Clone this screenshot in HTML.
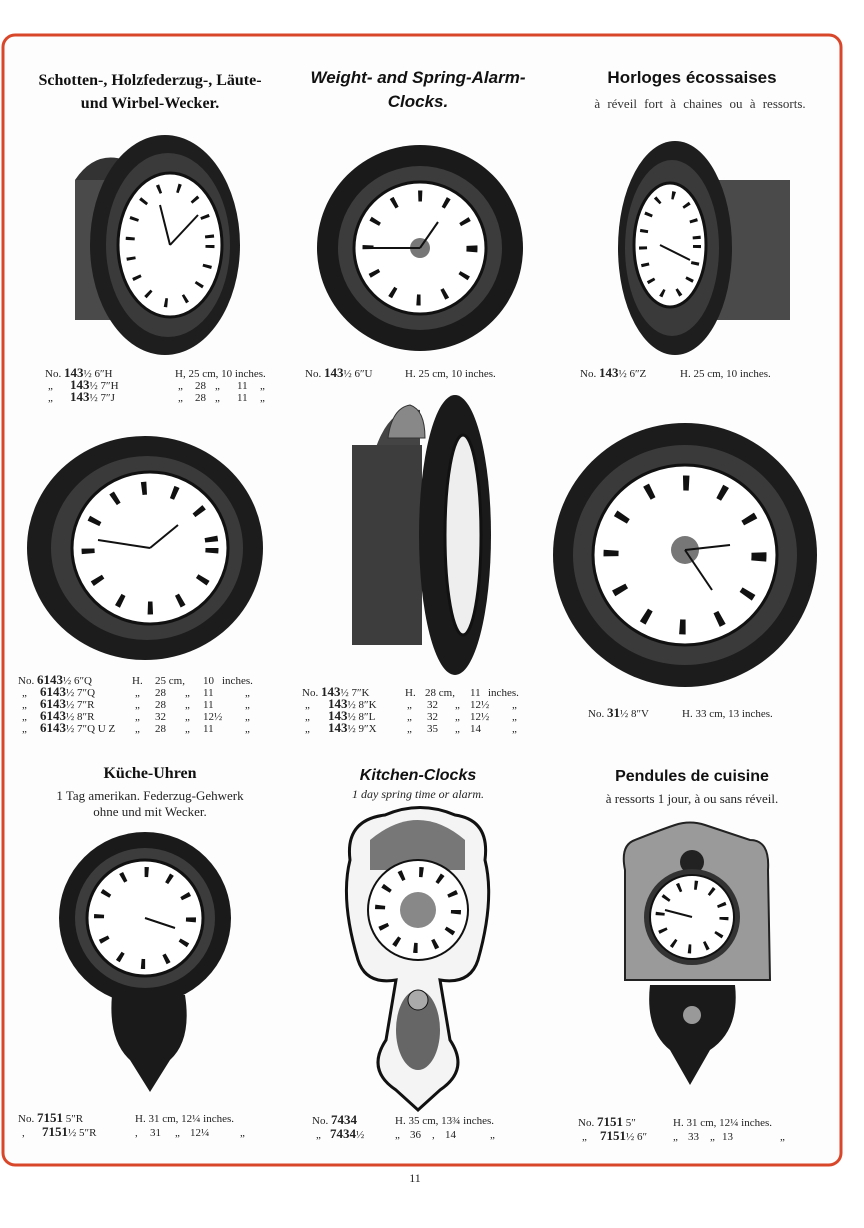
<!DOCTYPE html>
<html><head><meta charset="utf-8"><style>
html,body{margin:0;padding:0;background:#fff}
svg{display:block}
.t{font-family:"Liberation Serif",serif;font-size:11px;fill:#222}
.b{font-weight:bold;font-size:13px}
</style></head><body>
<svg width="864" height="1228" viewBox="0 0 864 1228" xmlns="http://www.w3.org/2000/svg">
<rect x="0" y="0" width="864" height="1228" fill="#fff"/>
<rect x="3" y="35" width="838" height="1130" rx="12" fill="#fdfdfd" stroke="#d9472b" stroke-width="3"/>

<g font-family="Liberation Serif,serif" fill="#111">
<text x="150" y="85" text-anchor="middle" font-size="16" font-weight="bold">Schotten-, Holzfederzug-, Läute-</text>
<text x="150" y="108" text-anchor="middle" font-size="16" font-weight="bold">und Wirbel-Wecker.</text>
</g>
<g font-family="Liberation Sans,sans-serif" fill="#111" font-style="italic" font-weight="bold">
<text x="418" y="83" text-anchor="middle" font-size="17">Weight- and Spring-Alarm-</text>
<text x="418" y="107" text-anchor="middle" font-size="17">Clocks.</text>
</g>
<text x="692" y="83" text-anchor="middle" font-family="Liberation Sans,sans-serif" font-size="17" font-weight="bold" fill="#111">Horloges écossaises</text>
<text x="700" y="108" text-anchor="middle" font-family="Liberation Serif,serif" font-size="13" fill="#333" word-spacing="4">à réveil fort à chaines ou à ressorts.</text>

<!-- clock 1 -->
<rect x="75" y="180" width="55" height="140" fill="#4a4a4a"/>
<path d="M75 180 Q95 150 125 160 L130 180Z" fill="#333"/>
<ellipse cx="165" cy="245" rx="75" ry="110" fill="#1e1e1e"/>
<ellipse cx="168" cy="245" rx="62" ry="92" fill="#3a3a3a"/>
<ellipse cx="170" cy="245" rx="52" ry="72" fill="#fff" stroke="#111" stroke-width="3"/>
<ellipse cx="170" cy="245" rx="40" ry="58" fill="none" stroke="#111" stroke-width="9" stroke-dasharray="3 17"/>
<line x1="170" y1="245" x2="160" y2="205" stroke="#111" stroke-width="2"/>
<line x1="170" y1="245" x2="198" y2="215" stroke="#111" stroke-width="2"/>

<!-- clock 2 -->
<circle cx="420" cy="248" r="103" fill="#1a1a1a"/>
<circle cx="420" cy="248" r="82" fill="#3c3c3c"/>
<circle cx="420" cy="248" r="66" fill="#fff" stroke="#111" stroke-width="3"/>
<circle cx="420" cy="248" r="52" fill="none" stroke="#111" stroke-width="11" stroke-dasharray="4 23"/>
<circle cx="420" cy="248" r="10" fill="#777"/>
<line x1="420" y1="248" x2="372" y2="248" stroke="#111" stroke-width="2"/>
<line x1="420" y1="248" x2="438" y2="222" stroke="#111" stroke-width="2"/>

<!-- clock 3 -->
<rect x="715" y="180" width="75" height="140" fill="#4a4a4a"/>
<ellipse cx="675" cy="248" rx="57" ry="107" fill="#1e1e1e"/>
<ellipse cx="672" cy="248" rx="47" ry="88" fill="#3a3a3a"/>
<ellipse cx="670" cy="245" rx="36" ry="62" fill="#fff" stroke="#111" stroke-width="3"/>
<ellipse cx="670" cy="245" rx="27" ry="50" fill="none" stroke="#111" stroke-width="8" stroke-dasharray="3 14"/>
<line x1="660" y1="245" x2="690" y2="260" stroke="#111" stroke-width="2"/>

<g class="t">
<text x="45" y="377">No. <tspan class="b">143</tspan>½ 6″H<tspan x="175">H, 25 cm, 10 inches.</tspan></text>
<text x="48" y="389">„<tspan x="70" class="b">143</tspan>½ 7″H<tspan x="178">„</tspan><tspan x="195">28</tspan><tspan x="215">„</tspan><tspan x="237">11</tspan><tspan x="260">„</tspan></text>
<text x="48" y="401">„<tspan x="70" class="b">143</tspan>½ 7″J<tspan x="178">„</tspan><tspan x="195">28</tspan><tspan x="215">„</tspan><tspan x="237">11</tspan><tspan x="260">„</tspan></text>
<text x="305" y="377">No. <tspan class="b">143</tspan>½ 6″U<tspan x="405">H. 25 cm, 10 inches.</tspan></text>
<text x="580" y="377">No. <tspan class="b">143</tspan>½ 6″Z<tspan x="680">H. 25 cm, 10 inches.</tspan></text>
</g>

<!-- clock 4 -->
<ellipse cx="145" cy="548" rx="118" ry="112" fill="#1c1c1c"/>
<ellipse cx="147" cy="548" rx="96" ry="92" fill="#3a3a3a"/>
<ellipse cx="150" cy="548" rx="78" ry="76" fill="#fff" stroke="#111" stroke-width="3"/>
<ellipse cx="150" cy="548" rx="62" ry="60" fill="none" stroke="#111" stroke-width="13" stroke-dasharray="5 26"/>
<line x1="150" y1="548" x2="98" y2="540" stroke="#111" stroke-width="2"/>
<line x1="150" y1="548" x2="178" y2="525" stroke="#111" stroke-width="2"/>

<!-- clock 5 side -->
<path d="M375 450 Q390 405 420 410 L420 450Z" fill="#444"/>
<path d="M388 438 Q392 408 410 405 Q425 410 425 438Z" fill="#888" stroke="#333"/>
<rect x="352" y="445" width="70" height="200" fill="#3d3d3d"/>
<ellipse cx="455" cy="535" rx="36" ry="140" fill="#1a1a1a"/>
<ellipse cx="463" cy="535" rx="18" ry="100" fill="#eee" stroke="#111" stroke-width="3"/>

<!-- clock 6 -->
<ellipse cx="685" cy="555" rx="132" ry="132" fill="#1c1c1c"/>
<ellipse cx="685" cy="555" rx="112" ry="110" fill="#3a3a3a"/>
<ellipse cx="685" cy="555" rx="92" ry="90" fill="#fff" stroke="#111" stroke-width="3"/>
<ellipse cx="685" cy="555" rx="74" ry="72" fill="none" stroke="#111" stroke-width="15" stroke-dasharray="6 32"/>
<circle cx="685" cy="550" r="14" fill="#777"/>
<line x1="685" y1="550" x2="730" y2="545" stroke="#111" stroke-width="2"/>
<line x1="685" y1="550" x2="712" y2="590" stroke="#111" stroke-width="2"/>

<g class="t">
<text x="18" y="684">No. <tspan class="b">6143</tspan>½ 6″Q<tspan x="132">H.</tspan><tspan x="155">25 cm,</tspan><tspan x="203">10</tspan><tspan x="222">inches.</tspan></text>
<text x="22" y="696">„<tspan x="40" class="b">6143</tspan>½ 7″Q<tspan x="135">„</tspan><tspan x="155">28</tspan><tspan x="185">„</tspan><tspan x="203">11</tspan><tspan x="245">„</tspan></text>
<text x="22" y="708">„<tspan x="40" class="b">6143</tspan>½ 7″R<tspan x="135">„</tspan><tspan x="155">28</tspan><tspan x="185">„</tspan><tspan x="203">11</tspan><tspan x="245">„</tspan></text>
<text x="22" y="720">„<tspan x="40" class="b">6143</tspan>½ 8″R<tspan x="135">„</tspan><tspan x="155">32</tspan><tspan x="185">„</tspan><tspan x="203">12½</tspan><tspan x="245">„</tspan></text>
<text x="22" y="732">„<tspan x="40" class="b">6143</tspan>½ 7″Q U Z<tspan x="135">„</tspan><tspan x="155">28</tspan><tspan x="185">„</tspan><tspan x="203">11</tspan><tspan x="245">„</tspan></text>
<text x="302" y="696">No. <tspan class="b">143</tspan>½ 7″K<tspan x="405">H.</tspan><tspan x="425">28 cm,</tspan><tspan x="470">11</tspan><tspan x="488">inches.</tspan></text>
<text x="305" y="708">„<tspan x="328" class="b">143</tspan>½ 8″K<tspan x="407">„</tspan><tspan x="427">32</tspan><tspan x="455">„</tspan><tspan x="470">12½</tspan><tspan x="512">„</tspan></text>
<text x="305" y="720">„<tspan x="328" class="b">143</tspan>½ 8″L<tspan x="407">„</tspan><tspan x="427">32</tspan><tspan x="455">„</tspan><tspan x="470">12½</tspan><tspan x="512">„</tspan></text>
<text x="305" y="732">„<tspan x="328" class="b">143</tspan>½ 9″X<tspan x="407">„</tspan><tspan x="427">35</tspan><tspan x="455">„</tspan><tspan x="470">14</tspan><tspan x="512">„</tspan></text>
<text x="588" y="717">No. <tspan class="b">31</tspan>½ 8″V<tspan x="682">H. 33 cm, 13 inches.</tspan></text>
</g>

<text x="150" y="778" text-anchor="middle" font-family="Liberation Serif,serif" font-size="16" font-weight="bold" fill="#111">Küche-Uhren</text>
<text x="150" y="800" text-anchor="middle" font-family="Liberation Serif,serif" font-size="13" fill="#222">1 Tag amerikan. Federzug-Gehwerk</text>
<text x="150" y="816" text-anchor="middle" font-family="Liberation Serif,serif" font-size="13" fill="#222">ohne und mit Wecker.</text>
<text x="418" y="780" text-anchor="middle" font-family="Liberation Sans,sans-serif" font-size="16" font-weight="bold" font-style="italic" fill="#111">Kitchen-Clocks</text>
<text x="418" y="798" text-anchor="middle" font-family="Liberation Serif,serif" font-size="12" font-style="italic" fill="#222">1 day spring time or alarm.</text>
<text x="692" y="781" text-anchor="middle" font-family="Liberation Sans,sans-serif" font-size="16" font-weight="bold" fill="#111">Pendules de cuisine</text>
<text x="692" y="803" text-anchor="middle" font-family="Liberation Serif,serif" font-size="13" fill="#222">à ressorts 1 jour, à ou sans réveil.</text>

<!-- clock 7 -->
<path d="M112 995 L185 995 Q192 1040 170 1060 L150 1092 L130 1060 Q108 1040 112 995Z" fill="#1a1a1a"/>
<circle cx="145" cy="918" r="86" fill="#1a1a1a"/>
<circle cx="145" cy="918" r="70" fill="#3c3c3c"/>
<circle cx="145" cy="918" r="58" fill="#fff" stroke="#111" stroke-width="3"/>
<circle cx="145" cy="918" r="46" fill="none" stroke="#111" stroke-width="10" stroke-dasharray="4 20"/>
<line x1="145" y1="918" x2="175" y2="928" stroke="#111" stroke-width="2"/>

<!-- clock 8 -->
<path d="M350 860 Q345 820 385 815 Q420 800 455 815 Q490 820 485 860 Q495 900 478 960 Q470 985 440 980 L450 1040 Q470 1070 440 1090 L418 1110 L396 1090 Q366 1070 386 1040 L396 980 Q366 985 358 960 Q340 900 350 860Z" fill="#f4f4f4" stroke="#111" stroke-width="3"/>
<path d="M370 840 Q418 800 465 840 L465 870 L370 870Z" fill="#777"/>
<circle cx="418" cy="910" r="50" fill="#fff" stroke="#111" stroke-width="2"/>
<circle cx="418" cy="910" r="38" fill="none" stroke="#111" stroke-width="10" stroke-dasharray="4 16"/>
<circle cx="418" cy="910" r="18" fill="#888"/>
<ellipse cx="418" cy="1030" rx="22" ry="40" fill="#666"/>
<circle cx="418" cy="1000" r="10" fill="#aaa" stroke="#111"/>

<!-- clock 9 -->
<path d="M650 985 L735 985 Q740 1030 710 1050 L690 1085 L670 1050 Q645 1030 650 985Z" fill="#1a1a1a"/>
<path d="M635 840 Q660 830 675 825 Q690 820 705 825 L750 840 Q770 840 768 870 L770 980 L625 980 L625 870 Q620 845 635 840Z" fill="#9a9a9a" stroke="#222" stroke-width="2"/>
<circle cx="692" cy="862" r="12" fill="#222"/>
<circle cx="692" cy="917" r="48" fill="#333"/>
<circle cx="692" cy="917" r="42" fill="#fff" stroke="#111" stroke-width="2"/>
<circle cx="692" cy="917" r="32" fill="none" stroke="#111" stroke-width="9" stroke-dasharray="3 14"/>
<line x1="692" y1="917" x2="665" y2="910" stroke="#111" stroke-width="2"/>
<circle cx="692" cy="1015" r="9" fill="#999"/>

<g class="t">
<text x="18" y="1122">No. <tspan class="b">7151</tspan> 5″R<tspan x="135">H. 31 cm, 12¼ inches.</tspan></text>
<text x="22" y="1136">,<tspan x="42" class="b">7151</tspan>½ 5″R<tspan x="135">,</tspan><tspan x="150">31</tspan><tspan x="175">„</tspan><tspan x="190">12¼</tspan><tspan x="240">„</tspan></text>
<text x="312" y="1124">No. <tspan class="b">7434</tspan><tspan x="395">H. 35 cm, 13¾ inches.</tspan></text>
<text x="316" y="1138">„<tspan x="330" class="b">7434</tspan>½<tspan x="395">„</tspan><tspan x="410">36</tspan><tspan x="432">,</tspan><tspan x="445">14</tspan><tspan x="490">„</tspan></text>
<text x="578" y="1126">No. <tspan class="b">7151</tspan> 5″<tspan x="673">H. 31 cm, 12¼ inches.</tspan></text>
<text x="582" y="1140">„<tspan x="600" class="b">7151</tspan>½ 6″<tspan x="673">„</tspan><tspan x="688">33</tspan><tspan x="710">„</tspan><tspan x="722">13</tspan><tspan x="780">„</tspan></text>
</g>

<text x="415" y="1182" text-anchor="middle" font-family="Liberation Serif,serif" font-size="12" fill="#222">11</text>
</svg>
</body></html>
